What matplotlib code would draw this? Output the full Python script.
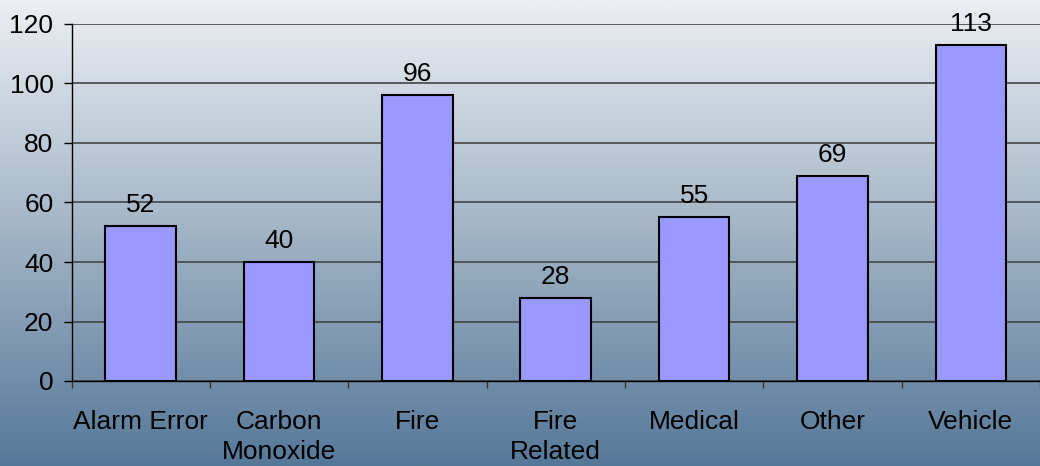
import numpy as np
import matplotlib
matplotlib.use('Agg')
import matplotlib.pyplot as plt

categories = ["Alarm Error", "Carbon\nMonoxide", "Fire", "Fire\nRelated", "Medical", "Other", "Vehicle"]
counts = [52, 40, 96, 28, 55, 69, 113]
y_ticks = [0, 20, 40, 60, 80, 100, 120]

plt.rcParams['font.family'] = ['Liberation Sans', 'DejaVu Sans']

W, H = 1040, 466
fig = plt.figure(figsize=(W / 100, H / 100), dpi=100)

# background gradient over the whole figure
bg = fig.add_axes([0, 0, 1, 1], zorder=0)
top = np.array([236, 239, 243]) / 255
bottom = np.array([86, 120, 152]) / 255
t = np.linspace(0, 1, 256)[:, None]
grad = top[None, :] * (1 - t) + bottom[None, :] * t
bg.imshow(grad[:, None, :], aspect='auto', extent=[0, 1, 0, 1])
bg.axis('off')

ax = fig.add_axes([71.5 / W, (H - 381) / H, 1 - 71.5 / W, (381 - 24) / H], zorder=1)
ax.patch.set_alpha(0)

x = np.arange(len(categories))
ax.bar(x, counts, width=0.51, color="#9999FF", edgecolor="black", linewidth=1.5, zorder=3)
for xi, v in zip(x, counts):
    ax.text(xi, v + 3.0, str(v), ha='center', va='bottom', fontsize=19, color='black', zorder=4)

ax.set_xlim(-0.5, len(categories) - 0.5)
ax.set_ylim(0, 120)
ax.set_yticks(y_ticks)
ax.set_yticklabels([str(v) for v in y_ticks], fontsize=19)
ax.tick_params(axis='y', direction='out', length=6, width=1, pad=7)

# ticks at category boundaries, labels at centres
ax.set_xticks(np.arange(len(categories) + 1) - 0.5)
ax.set_xticklabels([])
ax.tick_params(axis='x', which='major', direction='out', length=5, width=1, color='#333333')
ax.set_xticks(x, minor=True)
ax.set_xticklabels(categories, minor=True, fontsize=19, linespacing=1.32, va='top')
ax.tick_params(axis='x', which='minor', length=0, pad=21)

ax.grid(axis='y', color='#444444', linewidth=1.2, zorder=1)
ax.set_axisbelow(True)
for side in ['top', 'right']:
    ax.spines[side].set_visible(False)
ax.spines['left'].set_linewidth(1)
ax.spines['bottom'].set_linewidth(1)

fig.savefig("out.png", dpi=100)
